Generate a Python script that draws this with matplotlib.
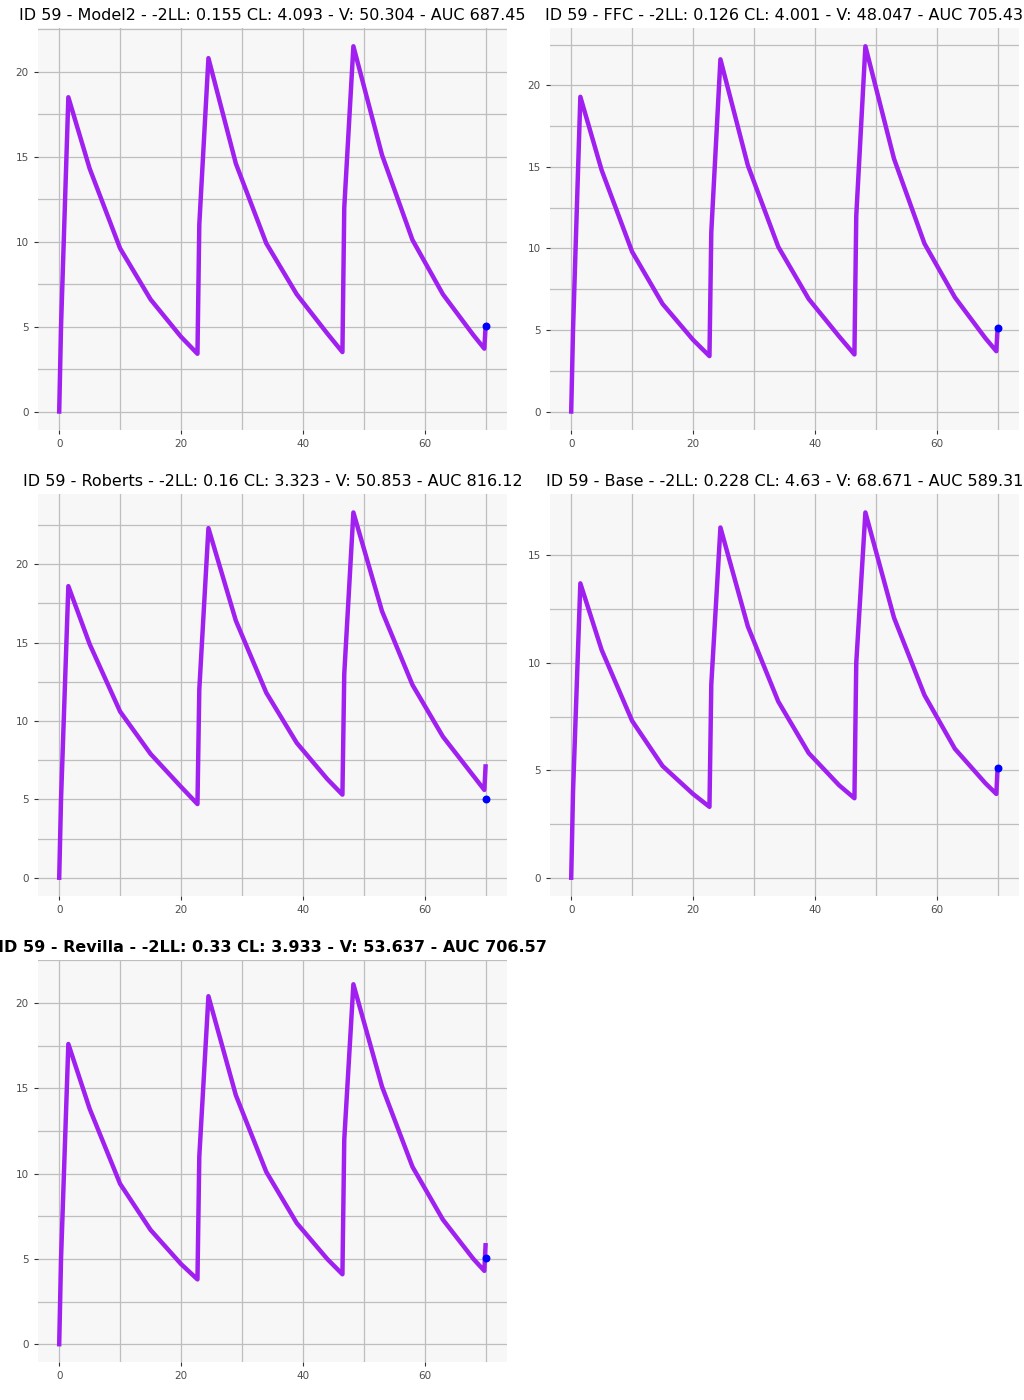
import matplotlib.pyplot as plt

# time grid (h)
t = [0, 0.3, 1.5, 5, 10, 15, 20, 22.7, 23.0, 24.5, 29, 34, 39, 44, 46.5, 46.8, 48.3,
     53, 58, 63, 68, 69.8, 70]

titles = [
    "ID 59 - Model2 - -2LL: 0.155 CL: 4.093 - V: 50.304 - AUC 687.45",
    "ID 59 - FFC - -2LL: 0.126 CL: 4.001 - V: 48.047 - AUC 705.43",
    "ID 59 - Roberts - -2LL: 0.16 CL: 3.323 - V: 50.853 - AUC 816.12",
    "ID 59 - Base - -2LL: 0.228 CL: 4.63 - V: 68.671 - AUC 589.31",
    "ID 59 - Revilla - -2LL: 0.33 CL: 3.933 - V: 53.637 - AUC 706.57",
]

conc_model2 = [0, 5, 18.5, 14.3, 9.6, 6.6, 4.4, 3.4, 11, 20.8, 14.6, 9.9, 6.9, 4.6, 3.5, 12, 21.5,
               15.1, 10.1, 6.9, 4.5, 3.7, 5.0]
conc_ffc = [0, 5, 19.3, 14.8, 9.8, 6.6, 4.4, 3.4, 11, 21.6, 15.1, 10.1, 6.9, 4.6, 3.5, 12, 22.4,
            15.5, 10.3, 7.0, 4.5, 3.7, 5.1]
conc_roberts = [0, 5, 18.6, 14.9, 10.6, 7.9, 5.8, 4.7, 12, 22.3, 16.4, 11.8, 8.6, 6.3, 5.3, 13, 23.3,
                17.0, 12.3, 9.0, 6.5, 5.6, 7.1]
conc_base = [0, 4, 13.7, 10.6, 7.3, 5.2, 3.9, 3.3, 9, 16.3, 11.7, 8.2, 5.8, 4.3, 3.7, 10, 17.0,
             12.1, 8.5, 6.0, 4.4, 3.9, 5.1]
conc_revilla = [0, 5, 17.6, 13.8, 9.4, 6.7, 4.7, 3.8, 11, 20.4, 14.6, 10.1, 7.1, 5.0, 4.1, 12, 21.1,
                15.1, 10.4, 7.3, 5.0, 4.3, 5.8]
concs = [conc_model2, conc_ffc, conc_roberts, conc_base, conc_revilla]

obs_t = 70
obs_c = [5.05, 5.1, 5.05, 5.1, 5.05]

fig = plt.figure(figsize=(10.24, 14), dpi=100)
positions = [(0.037, 0.693), (0.537, 0.693), (0.037, 0.360), (0.537, 0.360), (0.037, 0.027)]

for i, (x0, y0) in enumerate(positions):
    ax = fig.add_axes([x0, y0, 0.458, 0.287])
    ax.set_facecolor('#F7F7F7')
    ax.plot(t, concs[i], color='#A020F0', linewidth=3.2, solid_joinstyle='round', zorder=3)
    ax.scatter([obs_t], [obs_c[i]], color='#0000FF', s=22, zorder=4)
    ax.set_xlim(-3.5, 73.5)
    top = max(concs[i])
    ax.set_ylim(-0.05 * top, top * 1.05)
    ax.set_xticks([0, 20, 40, 60])
    ax.set_xticks([10, 30, 50, 70], minor=True)
    ax.set_yticks([0, 5, 10, 15, 20] if top > 18 else [0, 5, 10, 15])
    ax.set_yticks([2.5, 7.5, 12.5, 17.5, 22.5] if top > 18 else [2.5, 7.5, 12.5], minor=True)
    ax.grid(True, which='both', color='#BEBEBE', linewidth=0.9)
    ax.set_axisbelow(True)
    for s in ax.spines.values():
        s.set_visible(False)
    ax.tick_params(which='major', labelsize=7.5, labelcolor='#4D4D4D', length=3, color='#333333')
    ax.tick_params(which='minor', length=0)
    ax.set_title(titles[i], fontsize=11.5, pad=6, fontweight='bold' if i == 4 else 'normal')

fig.savefig('out.png', dpi=100)
